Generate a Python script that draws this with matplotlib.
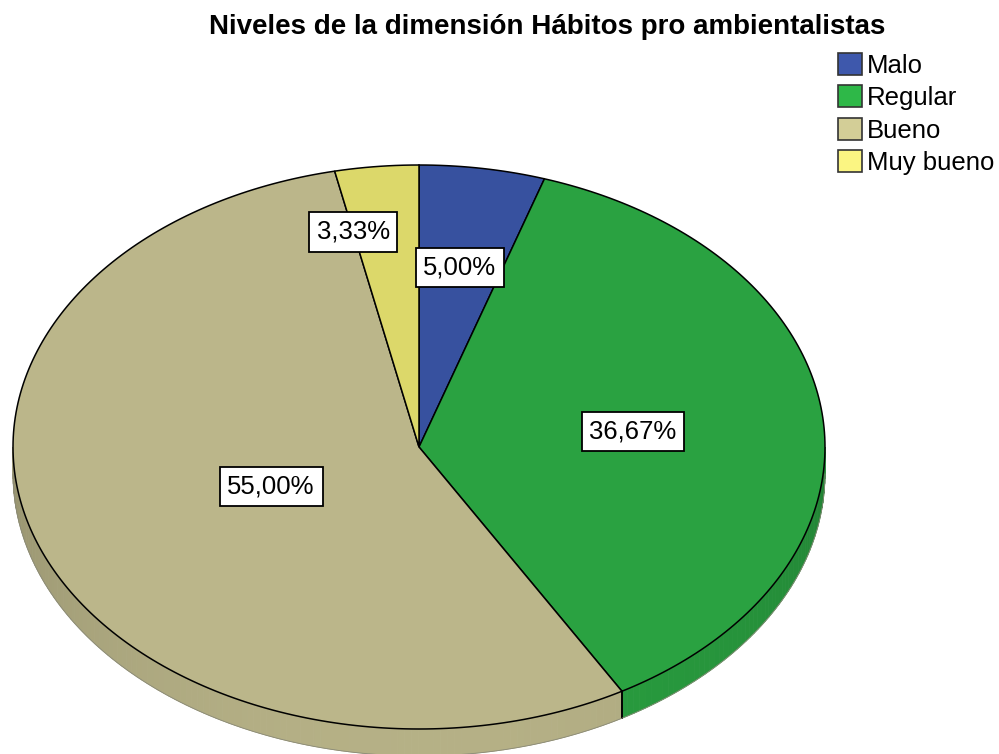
import numpy as np
import matplotlib
matplotlib.use("Agg")
import matplotlib.pyplot as plt
from matplotlib.patches import Polygon, Patch

# data
categories = ["Malo", "Regular", "Bueno", "Muy bueno"]
percents = [5.00, 36.67, 55.00, 3.33]
label_texts = ["5,00%", "36,67%", "55,00%", "3,33%"]
title = "Niveles de la dimensión Hábitos pro ambientalistas"

# styles
top_colors = ["#37519F", "#2AA241", "#BBB68A", "#DCD86A"]
legend_colors = ["#3E58AC", "#2EB848", "#D3CE97", "#FBF582"]

# pie geometry in pixels
cx, cy, rx, ry, depth = 419, 447, 406, 282, 27
label_r = [0.645, 0.53, 0.39, 0.78]
label_shift = [0, 0, 0, -6]

plt.rcParams['font.family'] = ['Liberation Sans', 'DejaVu Sans']

fig = plt.figure(figsize=(9.99, 7.54), dpi=100)
ax = fig.add_axes([0, 0, 1, 1])
ax.set_xlim(0, 999)
ax.set_ylim(754, 0)
ax.axis('off')


def pt(a, r=1.0, dy=0.0):
    t = np.radians(a)
    return cx + r * rx * np.sin(t), cy - r * ry * np.cos(t) + dy


bounds = np.concatenate([[0], np.cumsum(percents) / 100.0 * 360])

# side walls (front half only)
for i in range(len(percents)):
    lo = max(bounds[i], 90)
    hi = min(bounds[i + 1], 270)
    if lo >= hi:
        continue
    base = np.array(matplotlib.colors.to_rgb(top_colors[i]))
    angs = np.linspace(lo, hi, int(hi - lo) + 2)
    for a0, a1 in zip(angs[:-1], angs[1:]):
        f = 0.80 + 0.17 * np.sin(np.radians((a0 + a1) / 2 - 90))
        c = np.clip(base * f, 0, 1)
        p = [pt(a0), pt(a1), pt(a1, dy=depth), pt(a0, dy=depth)]
        ax.add_patch(Polygon(p, closed=True, fc=c, ec=c, lw=0.6))
    # boundary edge on the wall
    for b in (bounds[i], bounds[i + 1]):
        if 90 < b < 270:
            x0, y0 = pt(b)
            ax.plot([x0, x0], [y0, y0 + depth], color="black", lw=1.2)

arc = np.linspace(90, 270, 200)
bx, by = pt(arc, dy=depth)
ax.plot(bx, by, color="#8a8a78", lw=0.6)

# top faces
for i in range(len(percents)):
    angs = np.linspace(bounds[i], bounds[i + 1], max(int(bounds[i + 1] - bounds[i]), 2) + 1)
    xs, ys = pt(angs)
    poly = [(cx, cy)] + list(zip(xs, ys))
    ax.add_patch(Polygon(poly, closed=True, fc=top_colors[i], ec="black", lw=1.1))

# labels
for i in range(len(percents)):
    mid = (bounds[i] + bounds[i + 1]) / 2 + label_shift[i]
    x, y = pt(mid, r=label_r[i])
    ax.text(x, y, label_texts[i], ha="center", va="center", fontsize=18.5,
            bbox=dict(boxstyle="square,pad=0.3", fc="white", ec="black", lw=1.3))

ax.text(547, 27, title, ha="center", va="center", fontsize=20, fontweight="bold")

handles = [Patch(fc=c, ec="#333333", lw=1.2) for c in legend_colors]
ax.legend(handles, categories, loc="upper left", bbox_to_anchor=(838 / 999, 1 - 53 / 754),
          frameon=False, borderaxespad=0, borderpad=0, fontsize=18.5,
          handlelength=0.93, handleheight=0.93, handletextpad=0.2, labelspacing=0.3)

fig.savefig("out.png", dpi=100)
